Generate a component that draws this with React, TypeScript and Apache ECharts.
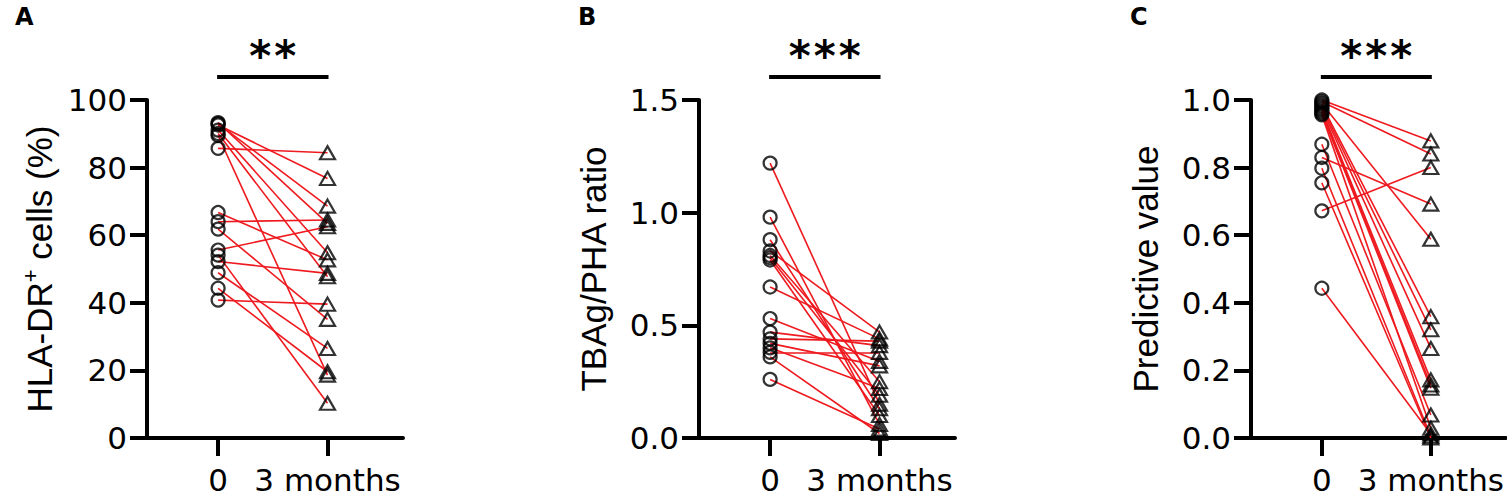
import React, { useEffect, useRef } from "react";
import * as echarts from "echarts";

// ---- data ----
const timeLabels = ["0", "3 months"];

const hlaBaseline = [93.3, 93.0, 92.6, 91.1, 90.1, 89.5, 85.7, 66.7, 64.0, 61.8, 55.6, 54.1, 52.2, 48.9, 44.3, 40.8];
const hlaMonth3 = [63.5, 68.6, 76.8, 54.8, 47.7, 18.6, 84.4, 52.7, 64.5, 35.1, 62.5, 10.3, 48.7, 26.5, 19.6, 39.6];

const tbBaseline = [1.22, 0.98, 0.88, 0.83, 0.81, 0.8, 0.79, 0.67, 0.53, 0.47, 0.44, 0.42, 0.4, 0.38, 0.36, 0.26];
const tbMonth3 = [0.15, 0.06, 0.13, 0.47, 0.25, 0.19, 0.1, 0.44, 0.34, 0.41, 0.43, 0.32, 0.22, 0.38, 0.02, 0.04];

const pvBaseline = [1.0, 0.995, 0.99, 0.985, 0.98, 0.975, 0.97, 0.965, 0.96, 0.956, 0.869, 0.83, 0.798, 0.755, 0.672, 0.443];
const pvMonth3 = [0.879, 0.84, 0.588, 0.359, 0.32, 0.265, 0.172, 0.157, 0.147, 0.029, 0.068, 0.692, 0.005, 0.0, 0.8, 0.012];

const panelLetters = ["A", "B", "C"];
const yNames = ["{a|HLA-DR}{sup|+}{a| cells (%)}", "TBAg/PHA ratio", "Predictive value"];
const yMax = [100, 1.5, 1.0];
const yInterval = [20, 0.5, 0.2];
const yDecimals = [0, 1, 1];
const significance = ["**", "***", "***"];

const RED = "#ee1a1f";
const BLACK = "#000000";

const gridLefts = [147, 699, 1251];
const letterLefts = [15, 578, 1130];

export default function App() {
  const ref = useRef<HTMLDivElement | null>(null);

  useEffect(() => {
    if (!ref.current) return;
    const chart = echarts.init(ref.current, null, { renderer: "svg" });
    const panels = [
      { base: hlaBaseline, m3: hlaMonth3 },
      { base: tbBaseline, m3: tbMonth3 },
      { base: pvBaseline, m3: pvMonth3 },
    ];

    const grids = gridLefts.map((l) => ({ left: l, top: 100, width: 256, height: 338 }));

    const xAxes = panels.map((_, i) => ({
      type: "value",
      gridIndex: i,
      min: -0.65,
      max: 1.69,
      axisLine: { show: true, onZero: false, lineStyle: { color: BLACK, width: 4 } },
      axisTick: { show: true, inside: false, length: 18, lineStyle: { color: BLACK, width: 4 }, customValues: [0, 1] },
      axisLabel: {
        show: true,
        customValues: [0, 1],
        margin: 26,
        color: BLACK,
        fontFamily: "DejaVu Sans",
        fontSize: 31,
        formatter: (v: number) => (Math.abs(v) < 1e-9 ? timeLabels[0] : timeLabels[1]),
      },
      splitLine: { show: false },
    }));

    const yAxes = panels.map((_, i) => ({
      type: "value",
      gridIndex: i,
      min: 0,
      max: yMax[i],
      interval: yInterval[i],
      name: yNames[i],
      nameLocation: "middle",
      nameGap: 88,
      nameTextStyle: {
        color: BLACK,
        fontFamily: "Liberation Sans",
        fontSize: 35,
        rich: {
          a: { fontFamily: "Liberation Sans", fontSize: 35, color: BLACK, lineHeight: 40 },
          sup: { fontFamily: "Liberation Sans", fontSize: 22, color: BLACK, verticalAlign: "top", lineHeight: 40, padding: [0, 0, 14, 0] },
        },
      },
      axisLine: { show: true, onZero: false, lineStyle: { color: BLACK, width: 4 } },
      axisTick: { show: true, inside: false, length: 17, lineStyle: { color: BLACK, width: 4 } },
      axisLabel: {
        margin: 20,
        color: BLACK,
        fontFamily: "DejaVu Sans",
        fontSize: 31,
        formatter: (v: number) => v.toFixed(yDecimals[i]),
      },
      splitLine: { show: false },
    }));

    const series: any[] = [];
    panels.forEach((p, i) => {
      series.push({
        type: "lines",
        coordinateSystem: "cartesian2d",
        xAxisIndex: i,
        yAxisIndex: i,
        silent: true,
        z: 2,
        lineStyle: { color: RED, width: 1.6, opacity: 1 },
        data: p.base.map((b, j) => ({ coords: [[0, b], [1, p.m3[j]]] })),
      });
      series.push({
        type: "scatter",
        xAxisIndex: i,
        yAxisIndex: i,
        symbol: "circle",
        symbolSize: 13,
        z: 3,
        itemStyle: { color: "rgba(0,0,0,0)", borderColor: BLACK, borderWidth: 2.2 },
        data: p.base.map((b) => [0, b]),
      });
      series.push({
        type: "scatter",
        xAxisIndex: i,
        yAxisIndex: i,
        symbol: "triangle",
        symbolSize: [15, 13],
        z: 3,
        itemStyle: { color: "rgba(0,0,0,0)", borderColor: BLACK, borderWidth: 2.2 },
        data: p.m3.map((v) => [1, v]),
      });
    });

    chart.setOption({
      animation: false,
      backgroundColor: "#ffffff",
      grid: grids,
      xAxis: xAxes,
      yAxis: yAxes,
      series,
    });

    const graphic: any[] = [];
    panels.forEach((_, i) => {
      const p0 = chart.convertToPixel({ gridIndex: i }, [0, yMax[i]]) as number[];
      const p1 = chart.convertToPixel({ gridIndex: i }, [1, yMax[i]]) as number[];
      const top = p0[1];
      graphic.push({
        type: "line",
        shape: { x1: p0[0] - 1, y1: top - 23, x2: p1[0] + 1, y2: top - 23 },
        style: { stroke: BLACK, lineWidth: 4 },
      });
      const stars = significance[i].split("");
      const step = 25;
      const cx = (p0[0] + p1[0]) / 2;
      stars.forEach((s, k) => {
        graphic.push({
          type: "text",
          x: cx + (k - (stars.length - 1) / 2) * step,
          y: top - 44,
          style: {
            text: s,
            fontFamily: "DejaVu Sans",
            fontWeight: "bold",
            fontSize: 42,
            fill: BLACK,
            align: "center",
            verticalAlign: "middle",
          },
        });
      });
      graphic.push({
        type: "text",
        x: letterLefts[i],
        y: 17,
        style: {
          text: panelLetters[i],
          fontFamily: "DejaVu Sans",
          fontWeight: "bold",
          fontSize: 24,
          fill: BLACK,
          align: "left",
          verticalAlign: "middle",
        },
      });
    });
    chart.setOption({ graphic });

    return () => chart.dispose();
  }, []);

  return (
    <div
      ref={ref}
      style={{ position: "fixed", left: 0, top: 0, width: 1507, height: 499, background: "#fff" }}
    />
  );
}
